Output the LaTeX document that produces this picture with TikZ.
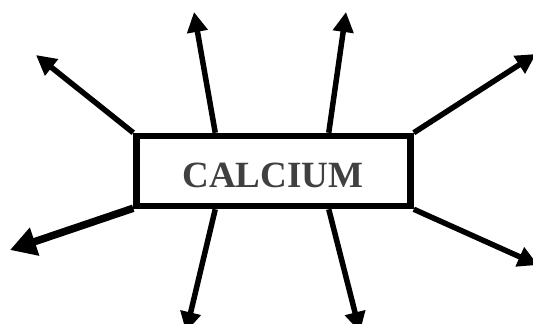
\documentclass[tikz,border=0pt]{standalone}
\usepackage{fontspec}
\setmainfont{Liberation Serif}
\usetikzlibrary{arrows.meta}
\definecolor{txtgray}{HTML}{404040}
\begin{document}
\begin{tikzpicture}[x=1pt,y=-1pt,
  ray/.style={line width=5.5pt,-{Triangle[length=20pt,width=20pt]}},
  bigray/.style={line width=7.5pt,-{Triangle[length=26pt,width=28pt]}},
  boxstyle/.style={draw,line width=6.5pt,minimum width=274pt,minimum height=70pt,inner sep=0pt,fill=white}]
\useasboundingbox (0,0) rectangle (533,324);
\clip (0,0) rectangle (533,324);
\coordinate (t1) at (36,55);
\coordinate (t2) at (194,12);
\coordinate (t3) at (346,12);
\coordinate (t4) at (536,54);
\coordinate (t5) at (10,250);
\coordinate (t6) at (186,332);
\coordinate (t7) at (360,332);
\coordinate (t8) at (538,265);
\node[boxstyle] (box) at (273.5,171) {};
\draw[ray] (box.north west) -- (t1);
\draw[ray] ([xshift=82pt]box.north west) -- (t2);
\draw[ray] ([xshift=-85pt]box.north east) -- (t3);
\draw[ray] (box.north east) -- (t4);
\draw[bigray] ([yshift=1pt]box.south west) -- (t5);
\draw[ray] ([xshift=82pt]box.south west) -- (t6);
\draw[ray] ([xshift=-85pt]box.south east) -- (t7);
\draw[ray] (box.south east) -- (t8);
\node[boxstyle] (box2) at (box.center) {};
\node[text=txtgray,font=\fontsize{37}{40}\selectfont\bfseries] (lbl) at (273,175) {CALCIUM};
\end{tikzpicture}
\end{document}
